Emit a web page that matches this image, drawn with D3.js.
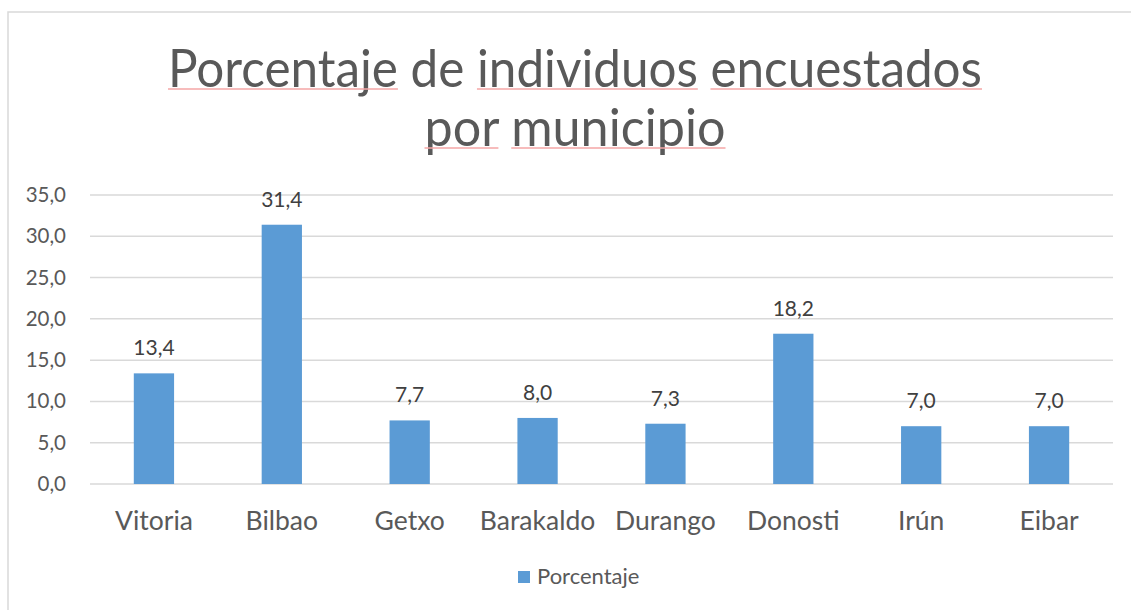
<!DOCTYPE html>
<html>
<head>
<meta charset="utf-8">
<script src="https://cdn.jsdelivr.net/npm/d3@7"></script>
<style>
  html, body { margin: 0; padding: 0; background: #fff; }
  svg { display: block; }
</style>
</head>
<body>
<svg id="chart" width="1131" height="610"></svg>
<script>
const categories = ["Vitoria", "Bilbao", "Getxo", "Barakaldo", "Durango", "Donosti", "Irún", "Eibar"];
const values = [13.4, 31.4, 7.7, 8.0, 7.3, 18.2, 7.0, 7.0];
const yTicks = [0, 5, 10, 15, 20, 25, 30, 35];
const seriesName = "Porcentaje";
const titleLines = ["Porcentaje de individuos encuestados", "por municipio"];

const fmt = v => d3.format(".1f")(v).replace(".", ",");
const FONT = "Lato, 'Open Sans', sans-serif";

const svg = d3.select("#chart");

// chart border (only top and left visible in the crop)
svg.append("rect")
  .attr("x", 8).attr("y", 12).attr("width", 1200).attr("height", 700)
  .attr("fill", "none").attr("stroke", "#d9d9d9").attr("stroke-width", 1.5);

const m = { left: 90, right: 1113, top: 195, bottom: 484 };

const x = d3.scaleBand().domain(categories).range([m.left, m.right]).paddingInner(0.685).paddingOuter(0.3425);
const y = d3.scaleLinear().domain([0, 35]).range([m.bottom, m.top]);

// gridlines
svg.append("g").selectAll("line").data(yTicks).join("line")
  .attr("x1", m.left).attr("x2", m.right)
  .attr("y1", d => y(d)).attr("y2", d => y(d))
  .attr("stroke", "#d9d9d9").attr("stroke-width", 1.5);

// y axis labels
const yAxis = d3.axisLeft(y).tickValues(yTicks).tickFormat(fmt).tickSize(0).tickPadding(0);
const gy = svg.append("g").attr("transform", "translate(66,0)").call(yAxis);
gy.select(".domain").remove();
gy.selectAll("text").attr("font-family", FONT).attr("font-size", 20.5).attr("fill", "#595959");

// bars
svg.append("g").selectAll("rect").data(values).join("rect")
  .attr("x", (d, i) => x(categories[i]))
  .attr("width", x.bandwidth())
  .attr("y", d => y(d))
  .attr("height", d => y(0) - y(d))
  .attr("fill", "#5b9bd5");

// data labels
svg.append("g").selectAll("text").data(values).join("text")
  .attr("x", (d, i) => x(categories[i]) + x.bandwidth() / 2)
  .attr("y", d => y(d) - 18)
  .attr("text-anchor", "middle")
  .attr("font-family", FONT).attr("font-size", 21).attr("fill", "#404040")
  .text(fmt);

// x axis labels
const xAxis = d3.axisBottom(x).tickSize(0).tickPadding(0);
const gx = svg.append("g").attr("transform", `translate(0,${m.bottom})`).call(xAxis);
gx.select(".domain").remove();
gx.selectAll("text").attr("font-family", FONT).attr("font-size", 26.5).attr("fill", "#595959")
  .attr("dy", null).attr("y", 46);

// title
const titleWidths = [814, 301];
const title = svg.append("g");
const tl = title.selectAll("text").data(titleLines).join("text")
  .attr("x", 575)
  .attr("y", (d, i) => 87 + i * 59)
  .attr("text-anchor", "middle")
  .attr("font-family", FONT).attr("font-size", 52).attr("fill", "#595959")
  .attr("textLength", (d, i) => titleWidths[i])
  .attr("lengthAdjust", "spacingAndGlyphs")
  .text(d => d);

// spell-check style underlines under words
const underlineWords = [[0, "Porcentaje"], [0, "individuos"], [0, "encuestados"], [1, "por"], [1, "municipio"]];
tl.each(function(line, li) {
  const node = this;
  const words = line.split(" ");
  let idx = 0;
  words.forEach(w => {
    const start = idx;
    idx += w.length + 1;
    if (underlineWords.some(u => u[0] === li && u[1] === w)) {
      const s = node.getStartPositionOfChar(start);
      const e = node.getEndPositionOfChar(start + w.length - 1);
      title.append("line")
        .attr("x1", s.x).attr("x2", e.x)
        .attr("y1", s.y + 2).attr("y2", s.y + 2)
        .attr("stroke", "#f4a6a6").attr("stroke-width", 1.5);
    }
  });
});

// legend
const lg = svg.append("g");
lg.append("rect").attr("x", 518).attr("y", 571).attr("width", 12).attr("height", 12).attr("fill", "#5b9bd5");
lg.append("text").attr("x", 537).attr("y", 584)
  .attr("font-family", FONT).attr("font-size", 22).attr("fill", "#595959").text(seriesName);
</script>
</body>
</html>
